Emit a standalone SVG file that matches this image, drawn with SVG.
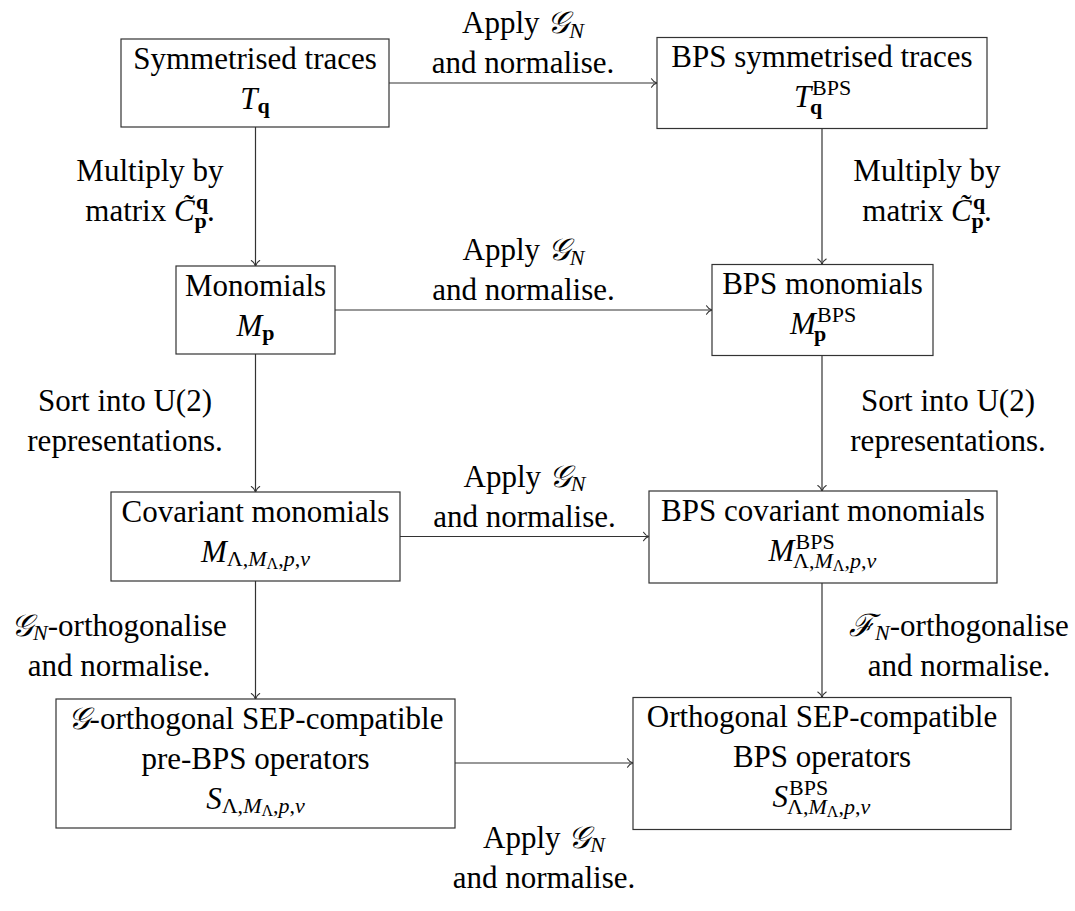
<svg xmlns="http://www.w3.org/2000/svg" width="1075" height="911" viewBox="0 0 1075 911" font-family="'Liberation Serif', 'DejaVu Serif', serif">
<style>
text{font-family:"Liberation Serif","DejaVu Serif",serif}
.t{font-size:31px;fill:#000}
.m{text-anchor:middle}
.i{font-style:italic}
.b{font-weight:bold}
.s{font-size:22px}
.ss{font-size:16px}
.box{fill:#fff;stroke:#333;stroke-width:1.2}
.c{fill:none;stroke:#333;stroke-width:1.2}
</style>
<defs>
<marker id="ah" markerUnits="userSpaceOnUse" markerWidth="14" markerHeight="14" viewBox="-8 -7 10 14" refX="0" refY="0" orient="auto">
<path d="M-5.5,-4.2 C-4,-1.6 -1.2,-0.3 0,0 C-1.2,0.3 -4,1.6 -5.5,4.2" fill="none" stroke="#333" stroke-width="1.1" stroke-linecap="round"/>
</marker>
</defs>

<g id="connectors">
<path class="c" d="M389,83 H657" marker-end="url(#ah)"/>
<path class="c" d="M335,310 H712" marker-end="url(#ah)"/>
<path class="c" d="M400,536.5 H649" marker-end="url(#ah)"/>
<path class="c" d="M455,763 H633" marker-end="url(#ah)"/>
<path class="c" d="M255.5,127 V266" marker-end="url(#ah)"/>
<path class="c" d="M822,128.5 V264.5" marker-end="url(#ah)"/>
<path class="c" d="M255.5,354 V492" marker-end="url(#ah)"/>
<path class="c" d="M822,355.5 V491" marker-end="url(#ah)"/>
<path class="c" d="M255.5,581 V699" marker-end="url(#ah)"/>
<path class="c" d="M822,583 V697.5" marker-end="url(#ah)"/>

<text class="t m" x="523" y="33.4">Apply <tspan class="i">𝒢</tspan><tspan class="s i" dy="4.3">N</tspan></text>
<text class="t m" x="523" y="73.4">and normalise.</text>
<text class="t m" x="523.5" y="260.4">Apply <tspan class="i">𝒢</tspan><tspan class="s i" dy="4.3">N</tspan></text>
<text class="t m" x="523.5" y="300.4">and normalise.</text>
<text class="t m" x="524.5" y="486.9">Apply <tspan class="i">𝒢</tspan><tspan class="s i" dy="4.3">N</tspan></text>
<text class="t m" x="524.5" y="526.9">and normalise.</text>
<text class="t m" x="544" y="848">Apply <tspan class="i">𝒢</tspan><tspan class="s i" dy="4.3">N</tspan></text>
<text class="t m" x="544" y="888">and normalise.</text>

<text class="t m" x="150" y="181">Multiply by</text>
<text class="t" y="221"><tspan x="85.3">matrix </tspan><tspan class="i">C̃</tspan><tspan x="196" y="209" class="s b">q</tspan><tspan x="194.5" y="228" class="s b">p</tspan><tspan x="207" y="221">.</tspan></text>
<text class="t m" x="927" y="181">Multiply by</text>
<text class="t" y="221"><tspan x="862.3">matrix </tspan><tspan class="i">C̃</tspan><tspan x="973" y="209" class="s b">q</tspan><tspan x="971.5" y="228" class="s b">p</tspan><tspan x="984" y="221">.</tspan></text>

<text class="t m" x="125" y="411">Sort into U(2)</text>
<text class="t m" x="125" y="451">representations.</text>
<text class="t m" x="948" y="411">Sort into U(2)</text>
<text class="t m" x="948" y="451">representations.</text>

<text class="t m" x="119" y="636"><tspan class="i">𝒢</tspan><tspan class="s i" dy="4.3">N</tspan><tspan dy="-4.3">-orthogonalise</tspan></text>
<text class="t m" x="119" y="676">and normalise.</text>
<text class="t m" x="959" y="636"><tspan class="i">ℱ</tspan><tspan class="s i" dy="4.3">N</tspan><tspan dy="-4.3">-orthogonalise</tspan></text>
<text class="t m" x="959" y="676">and normalise.</text>
</g>

<g id="sym-traces">
<rect class="box" x="121" y="39" width="268" height="88"/>
<text class="t m" x="255" y="68.5">Symmetrised traces</text>
<text class="t m" x="255" y="108.5"><tspan class="i">T</tspan><tspan class="s b" dy="4.3">q</tspan></text>
</g>

<g id="bps-sym-traces">
<rect class="box" x="657" y="37.5" width="330" height="91"/>
<text class="t m" x="822" y="67.1">BPS symmetrised traces</text>
<text class="t" y="107.1"><tspan x="794" class="i">T</tspan><tspan x="812" y="95" class="s">BPS</tspan><tspan x="810" y="114.2" class="s b">q</tspan></text>
</g>

<g id="monomials">
<rect class="box" x="176" y="266" width="159" height="88"/>
<text class="t m" x="255.5" y="295.6">Monomials</text>
<text class="t m" x="255.5" y="335.6"><tspan class="i">M</tspan><tspan class="s b" dy="4.3">p</tspan></text>
</g>

<g id="bps-monomials">
<rect class="box" x="712" y="264.5" width="221" height="91"/>
<text class="t m" x="822.5" y="294.1">BPS monomials</text>
<text class="t" y="334.1"><tspan x="790" class="i">M</tspan><tspan x="817" y="322" class="s">BPS</tspan><tspan x="814" y="341.2" class="s b">p</tspan></text>
</g>

<g id="covariant-monomials">
<rect class="box" x="111" y="492" width="289" height="89"/>
<text class="t m" x="255.5" y="521.6">Covariant monomials</text>
<text class="t m" x="255.5" y="561.6"><tspan class="i">M</tspan><tspan class="s" dy="4.3">Λ,</tspan><tspan class="s i">M</tspan><tspan class="ss" dy="3">Λ</tspan><tspan class="s" dy="-3">,</tspan><tspan class="s i">p</tspan><tspan class="s">,</tspan><tspan class="s i">ν</tspan></text>
</g>

<g id="bps-covariant-monomials">
<rect class="box" x="649" y="491" width="348" height="92"/>
<text class="t m" x="823" y="520.6">BPS covariant monomials</text>
<text class="t" y="560.6"><tspan x="768.5" class="i">M</tspan><tspan x="795.5" y="548.6" class="s">BPS</tspan><tspan x="793" y="567.7" class="s">Λ,</tspan><tspan class="s i">M</tspan><tspan class="ss" dy="3">Λ</tspan><tspan class="s" dy="-3">,</tspan><tspan class="s i">p</tspan><tspan class="s">,</tspan><tspan class="s i">ν</tspan></text>
</g>

<g id="g-orthogonal-operators">
<rect class="box" x="56" y="699" width="399" height="129"/>
<text class="t m" x="255.5" y="728.6"><tspan class="i">𝒢</tspan>-orthogonal SEP-compatible</text>
<text class="t m" x="255.5" y="768.6">pre-BPS operators</text>
<text class="t m" x="255.5" y="808.6"><tspan class="i">S</tspan><tspan class="s" dy="4.3">Λ,</tspan><tspan class="s i">M</tspan><tspan class="ss" dy="3">Λ</tspan><tspan class="s" dy="-3">,</tspan><tspan class="s i">p</tspan><tspan class="s">,</tspan><tspan class="s i">ν</tspan></text>
</g>

<g id="orthogonal-bps-operators">
<rect class="box" x="633" y="697.5" width="378" height="132"/>
<text class="t m" x="822" y="727.2">Orthogonal SEP-compatible</text>
<text class="t m" x="822" y="767.2">BPS operators</text>
<text class="t" y="807.2"><tspan x="772.6" class="i">S</tspan><tspan x="789" y="795" class="s">BPS</tspan><tspan x="787" y="814.3" class="s">Λ,</tspan><tspan class="s i">M</tspan><tspan class="ss" dy="3">Λ</tspan><tspan class="s" dy="-3">,</tspan><tspan class="s i">p</tspan><tspan class="s">,</tspan><tspan class="s i">ν</tspan></text>
</g>
</svg>
